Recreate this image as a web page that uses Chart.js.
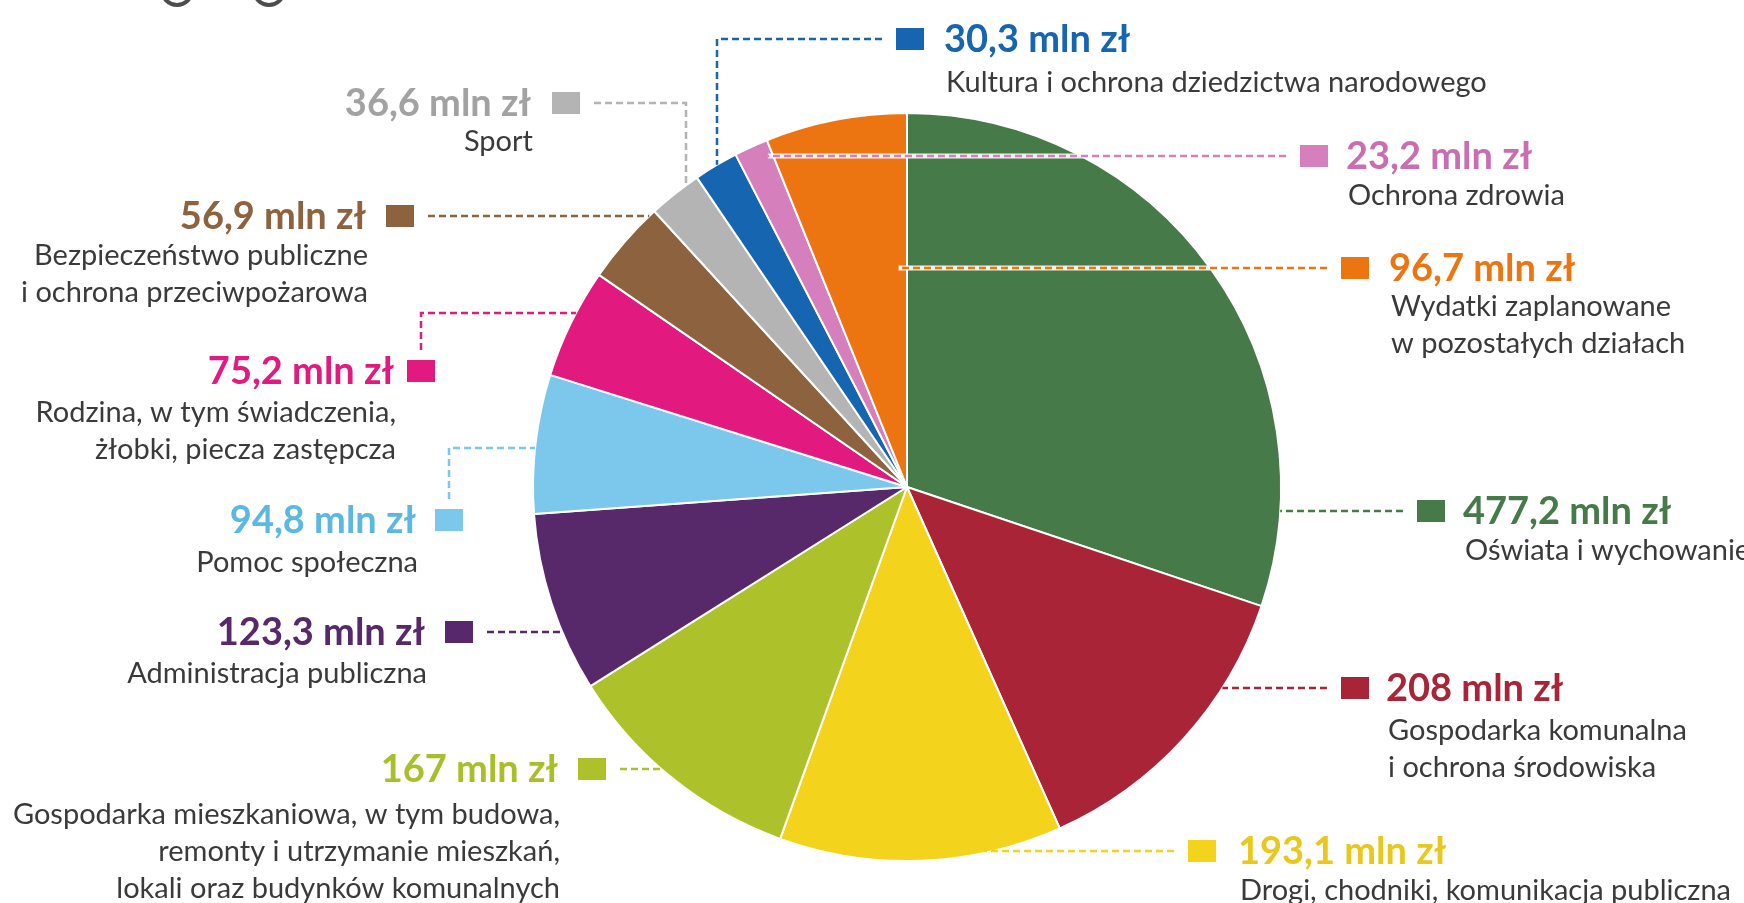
<!DOCTYPE html>
<html lang="pl">
<head>
<meta charset="utf-8">
<title>Wydatki budżetu</title>
<script src="https://cdn.jsdelivr.net/npm/chart.js@4.4.1/dist/chart.umd.min.js"></script>
<style>
  html, body { margin: 0; padding: 0; background: #fff; }
  #wrap { width: 1744px; height: 903px; }
</style>
</head>
<body>
<div id="wrap"><canvas id="pie" width="1744" height="903"></canvas></div>
<script>
// slices, clockwise from the top
const categories = [
    ['Oświata i wychowanie'],
    ['Gospodarka komunalna', 'i ochrona środowiska'],
    ['Drogi, chodniki, komunikacja publiczna'],
    ['Gospodarka mieszkaniowa, w tym budowa,', 'remonty i utrzymanie mieszkań,', 'lokali oraz budynków komunalnych'],
    ['Administracja publiczna'],
    ['Pomoc społeczna'],
    ['Rodzina, w tym świadczenia,', 'żłobki, piecza zastępcza'],
    ['Bezpieczeństwo publiczne', 'i ochrona przeciwpożarowa'],
    ['Sport'],
    ['Kultura i ochrona dziedzictwa narodowego'],
    ['Ochrona zdrowia'],
    ['Wydatki zaplanowane', 'w pozostałych działach']
];
const values = [477.2, 208, 193.1, 167, 123.3, 94.8, 75.2, 56.9, 36.6, 30.3, 23.2, 96.7];
const unit = 'mln zł';

const colors = ['#467a48', '#a92437', '#f3d31c', '#adc22a', '#58296a', '#7cc8ec',
                '#e2197f', '#8c633e', '#b4b4b4', '#1565b0', '#d67fbd', '#ec7512'];
const textColors = ['#467a48', '#a92437', '#e9c81b', '#a8bf2a', '#58296a', '#5bb8e0',
                    '#e2197f', '#8c633e', '#a2a2a2', '#1565b0', '#c96fb1', '#ec7512'];

// label placement: square centre, which side the text goes, connector shape
const layout = [
    {sx: 1431, sy: 511, side: 'right', tx: 1463, dy: 40, conn: 'h'},
    {sx: 1355, sy: 688, side: 'right', tx: 1386, dy: 43, conn: 'h'},
    {sx: 1202, sy: 851, side: 'right', tx: 1238, dy: 40, conn: 'h', inset: 22},
    {sx: 592, sy: 769, side: 'left', tx: 558, dy: 46, conn: 'h'},
    {sx: 459, sy: 632, side: 'left', tx: 425, dy: 42, conn: 'h'},
    {sx: 449, sy: 520, side: 'left', tx: 416, dy: 43, conn: 'vh', elbow: 448},
    {sx: 421, sy: 371, side: 'left', tx: 394, dy: 42, conn: 'vh', elbow: 313},
    {sx: 400, sy: 216, side: 'left', tx: 366, dy: 40, conn: 'h'},
    {sx: 566, sy: 103, side: 'left', tx: 531, dy: 39, conn: 'hv', elbow: 686},
    {sx: 910, sy: 39, side: 'right', tx: 944, dy: 44, conn: 'hv', elbow: 717},
    {sx: 1314, sy: 156, side: 'right', tx: 1346, dy: 40, conn: 'h', f: 0.85, under: true},
    {sx: 1355, sy: 268, side: 'right', tx: 1389, dy: 39, conn: 'h', f: 0.9, under: true}
];

const SQ_W = 28, SQ_H = 22, GAP = 14, LINE_H = 37;

function fmt(v) {
    return String(v).replace('.', ',') + ' ' + unit;
}

// where a horizontal (axis 'y') or vertical (axis 'x') guide line meets the slice
function slicePoint(arc, L, axis, value) {
    const cx = arc.x, cy = arc.y, R = arc.outerRadius;
    const mid = (arc.startAngle + arc.endAngle) / 2;
    if (L.f !== undefined) {
        const a = arc.startAngle + L.f * (arc.endAngle - arc.startAngle);
        const t = axis === 'y' ? (value - cy) / Math.sin(a) : (value - cx) / Math.cos(a);
        if (t > 0 && t <= R) {
            return axis === 'y' ? [cx + t * Math.cos(a), value] : [value, cy + t * Math.sin(a)];
        }
    }
    const inset = L.inset || 0;
    if (axis === 'y') {
        const d = value - cy;
        const s = Math.sign(Math.cos(mid));
        return [cx + s * (Math.sqrt(R * R - d * d) - inset), value];
    }
    const d = value - cx;
    const s = Math.sign(Math.sin(mid));
    return [value, cy + s * (Math.sqrt(R * R - d * d) - inset)];
}

function connector(L, arc) {
    if (L.conn === 'h') {
        const x0 = L.side === 'right' ? L.sx - SQ_W / 2 - GAP : L.sx + SQ_W / 2 + GAP;
        return [[x0, L.sy], slicePoint(arc, L, 'y', L.sy)];
    }
    if (L.conn === 'hv') {
        const x0 = L.elbow < L.sx ? L.sx - SQ_W / 2 - GAP : L.sx + SQ_W / 2 + GAP;
        return [[x0, L.sy], [L.elbow, L.sy], slicePoint(arc, L, 'x', L.elbow)];
    }
    return [[L.sx, L.sy - SQ_H / 2 - 10], [L.sx, L.elbow], slicePoint(arc, L, 'y', L.elbow)];
}

function strokePath(ctx, pts) {
    ctx.beginPath();
    ctx.moveTo(pts[0][0], pts[0][1]);
    for (let k = 1; k < pts.length; k++) ctx.lineTo(pts[k][0], pts[k][1]);
    ctx.stroke();
}

const callouts = {
    id: 'callouts',
    afterDraw(chart) {
        const ctx = chart.ctx;
        const arcs = chart.getDatasetMeta(0).data;

        // partial icons cut off at the top edge
        ctx.save();
        ctx.strokeStyle = '#4d4d4d';
        ctx.lineWidth = 4;
        [[177, -10], [269, -10]].forEach(p => {
            ctx.beginPath();
            ctx.arc(p[0], p[1], 15, 0, Math.PI * 2);
            ctx.stroke();
        });
        ctx.restore();

        layout.forEach((L, i) => {
            const arc = arcs[i];
            const pts = connector(L, arc);

            ctx.save();
            if (L.under) {
                ctx.save();
                ctx.beginPath();
                ctx.arc(arc.x, arc.y, arc.outerRadius, 0, Math.PI * 2);
                ctx.clip();
                ctx.strokeStyle = 'rgba(255,255,255,0.9)';
                ctx.lineWidth = 5;
                strokePath(ctx, pts);
                ctx.restore();
            }
            ctx.strokeStyle = colors[i];
            ctx.lineWidth = 2.5;
            ctx.setLineDash([7, 4]);
            strokePath(ctx, pts);
            ctx.restore();

            ctx.fillStyle = colors[i];
            ctx.fillRect(L.sx - SQ_W / 2, L.sy - SQ_H / 2, SQ_W, SQ_H);

            ctx.textAlign = L.side === 'right' ? 'left' : 'right';
            ctx.textBaseline = 'alphabetic';
            ctx.font = 'bold 38px Lato';
            ctx.fillStyle = textColors[i];
            ctx.fillText(fmt(values[i]), L.tx, L.sy + 13);

            ctx.font = '29px Lato';
            ctx.fillStyle = '#3a3a3a';
            ctx.textBaseline = 'middle';
            categories[i].forEach((line, k) => {
                ctx.fillText(line, L.tx + 2, L.sy + L.dy + k * LINE_H);
            });
        });
    }
};

new Chart(document.getElementById('pie').getContext('2d'), {
    type: 'pie',
    data: {
        labels: categories.map(c => c.join(' ')),
        datasets: [{
            data: values,
            backgroundColor: colors,
            borderColor: '#ffffff',
            borderWidth: 2
        }]
    },
    options: {
        responsive: false,
        animation: false,
        layout: {padding: {left: 532, right: 462, top: 112, bottom: 41}},
        plugins: {legend: {display: false}, tooltip: {enabled: false}}
    },
    plugins: [callouts]
});
</script>
</body>
</html>
